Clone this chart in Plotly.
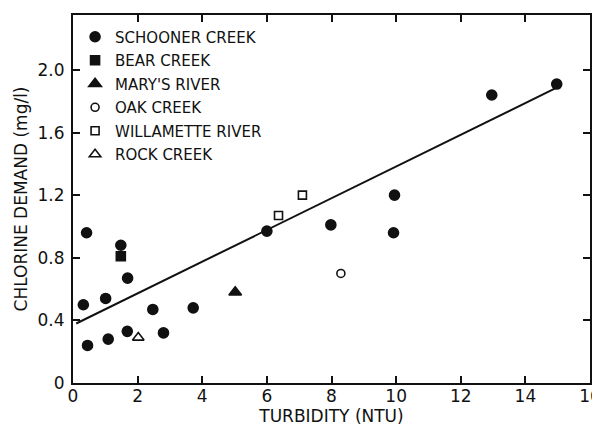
import plotly.graph_objects as go

# Data
schooner_x = [0.42, 0.32, 0.45, 1.01, 1.09, 1.48, 1.69, 1.68, 2.47, 2.80, 3.72, 6.0, 7.98, 9.95, 9.92, 12.96, 14.97]
schooner_y = [0.96, 0.50, 0.24, 0.54, 0.28, 0.88, 0.67, 0.33, 0.47, 0.32, 0.48, 0.97, 1.01, 1.20, 0.96, 1.84, 1.91]
bear_x = [1.48]
bear_y = [0.81]
marys_x = [5.02]
marys_y = [0.58]
oak_x = [8.29]
oak_y = [0.70]
willamette_x = [6.36, 7.10]
willamette_y = [1.07, 1.20]
rock_x = [2.02]
rock_y = [0.29]
fit_x = [0.1, 15.0]
fit_y = [0.38, 1.89]

x_ticks = [0, 2, 4, 6, 8, 10, 12, 14, 16]
x_ticklabels = ["0", "2", "4", "6", "8", "10", "12", "14", "16"]
y_ticks = [0, 0.4, 0.8, 1.2, 1.6, 2.0]
y_ticklabels = ["0", "0.4", "0.8", "1.2", "1.6", "2.0"]

FONT = "DejaVu Sans"
INK = "#111111"

fig = go.Figure()

fig.add_trace(go.Scatter(x=fit_x, y=fit_y, mode="lines", line=dict(color=INK, width=2),
                         showlegend=False, hoverinfo="skip"))

series = [
    ("SCHOONER CREEK", schooner_x, schooner_y, "circle", 10),
    ("BEAR CREEK", bear_x, bear_y, "square", 9),
    ("MARY'S RIVER", marys_x, marys_y, "triangle-up", 11),
    ("OAK CREEK", oak_x, oak_y, "circle-open", 8),
    ("WILLAMETTE RIVER", willamette_x, willamette_y, "square-open", 8),
    ("ROCK CREEK", rock_x, rock_y, "triangle-up-open", 10),
]
for i, (name, xs, ys, sym, sz) in enumerate(series):
    fig.add_trace(go.Scatter(
        x=xs, y=ys, mode="markers", name=name, legendgroup=f"g{i}",
        marker=dict(symbol=sym, size=sz, color=INK, line=dict(color=INK, width=1.6)),
    ))

axis_common = dict(
    showline=True, linecolor=INK, linewidth=2, mirror="allticks",
    ticks="inside", ticklen=7, tickwidth=1.5, tickcolor=INK,
    showgrid=False, zeroline=False, automargin=False,
    ticklabeloverflow="allow",
    tickfont=dict(family=FONT, size=17, color=INK),
)

# The page body adds an 8px offset; size the figure so the plot frame lands where the
# reference has it.
fig.update_layout(
    width=592, height=419,
    margin=dict(l=65, r=10, t=7, b=44),
    paper_bgcolor="white", plot_bgcolor="white",
    font=dict(family=FONT, color=INK),
    xaxis=dict(range=[0, 16], tickvals=x_ticks, ticktext=x_ticklabels, ticklabelstandoff=-3,
               title=dict(text="TURBIDITY (NTU)", font=dict(family=FONT, size=17, color=INK), standoff=3),
               **axis_common),
    yaxis=dict(range=[0, 2.351], tickvals=y_ticks, ticktext=y_ticklabels, ticklabelstandoff=3,
               title=dict(text="CHLORINE DEMAND (mg/l)", font=dict(family=FONT, size=17, color=INK), standoff=6),
               **axis_common),
    legend=dict(x=0.004, y=0.985, xanchor="left", yanchor="top",
                bgcolor="rgba(0,0,0,0)", borderwidth=0,
                font=dict(family=FONT, size=15, color=INK),
                tracegroupgap=1),
)

fig.write_html("out.html")
